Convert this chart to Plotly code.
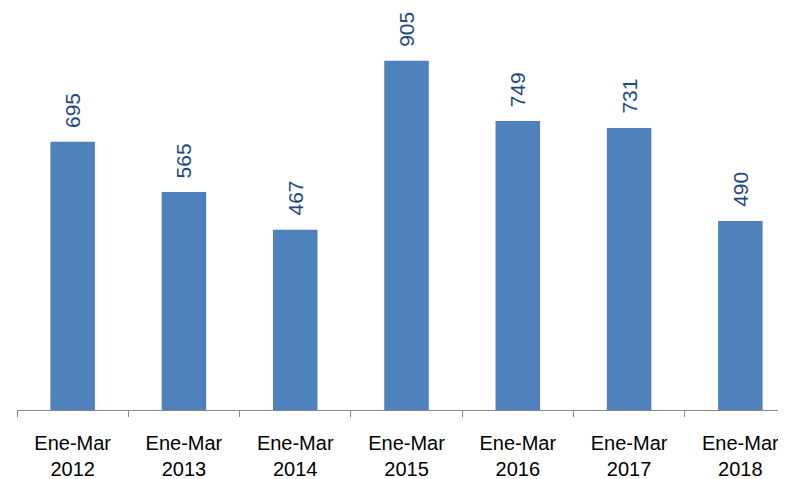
import plotly.graph_objects as go

periods = ["Ene-Mar<br>2012", "Ene-Mar<br>2013", "Ene-Mar<br>2014", "Ene-Mar<br>2015",
           "Ene-Mar<br>2016", "Ene-Mar<br>2017", "Ene-Mar<br>2018"]
values = [695, 565, 467, 905, 749, 731, 490]

fig = go.Figure(go.Bar(
    x=periods, y=values,
    marker=dict(color="#4F81BD", line=dict(width=0)),
    width=0.4,
))

# value labels, rotated, sitting a bit above each bar
for p, v in zip(periods, values):
    fig.add_annotation(
        x=p, y=v, text=str(v), textangle=-90,
        showarrow=False, yanchor="bottom", yshift=12,
        font=dict(family="Liberation Sans, Arial", size=21, color="#1F497D"),
    )

# page has an 8px body margin, so the figure is sized to fit the window
fig.update_layout(
    width=778, height=471,
    margin=dict(l=9, r=0, t=0, b=69, autoexpand=False),
    plot_bgcolor="white", paper_bgcolor="white",
    showlegend=False,
    font=dict(family="Liberation Sans, Arial", size=20, color="black"),
)
fig.update_xaxes(
    range=[-0.5, 6.41], automargin=False,
    showline=True, linecolor="#888888", linewidth=1,
    ticks="outside", tickson="boundaries", ticklen=6, tickcolor="#888888",
    ticklabelstandoff=15,
    showgrid=False,
)
fig.update_yaxes(range=[0, 1042], visible=False, showgrid=False, automargin=False)

fig.write_html("out.html")
